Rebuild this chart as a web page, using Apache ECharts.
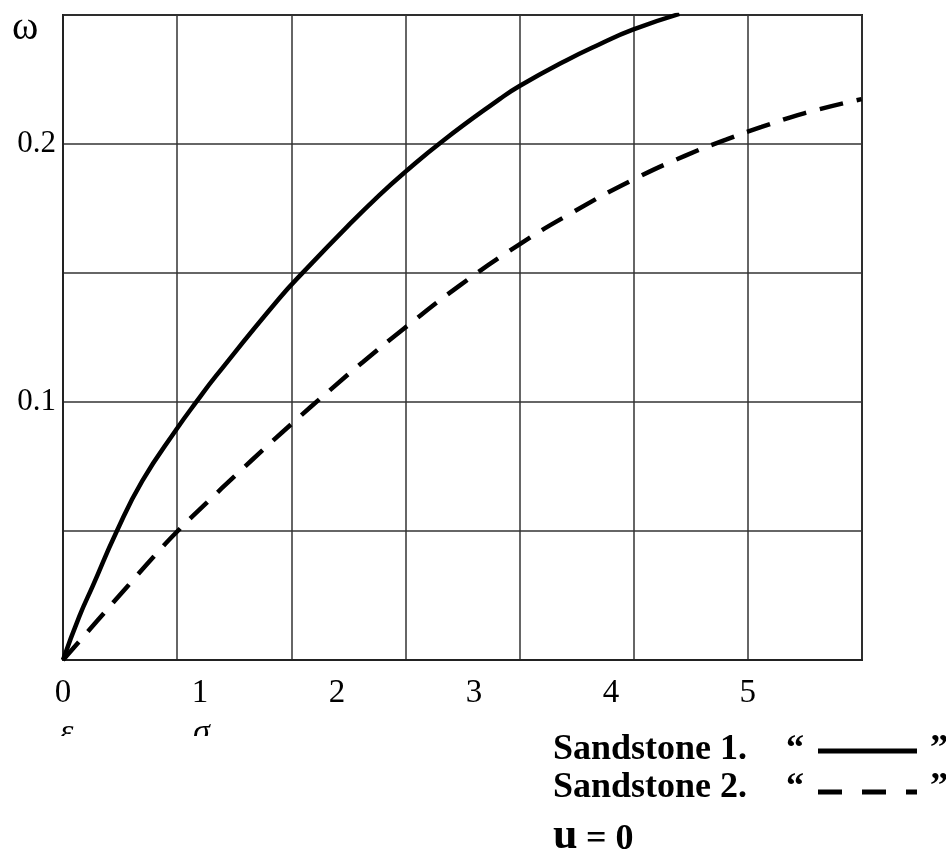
<!DOCTYPE html>
<html>
<head>
<meta charset="utf-8">
<script src="https://cdn.jsdelivr.net/npm/echarts@6/dist/echarts.min.js"></script>
<style>
  html, body { margin: 0; padding: 0; background: #fff; }
  #main { width: 946px; height: 853px; }
</style>
</head>
<body>
<div id="main"></div>
<script>
// strain (x) and omega (y)
var sand1X = [0, 0.12, 0.22, 0.39, 0.58, 0.83, 0.98, 1.12, 1.58, 1.77, 2.07, 2.31, 2.49, 2.77, 3.19, 3.33, 3.67, 3.91, 4.16, 4.50];
var sand1Y = [0, 0.017, 0.029, 0.0496, 0.0695, 0.0895, 0.1005, 0.1103, 0.1402, 0.1512, 0.1677, 0.1802, 0.1888, 0.2011, 0.2175, 0.2224, 0.2323, 0.2385, 0.2443, 0.2504];
var sand2X = [0, 0.25, 0.47, 0.66, 0.83, 1.05, 1.27, 1.49, 1.66, 1.96, 2.19, 2.49, 2.89, 3.33, 3.73, 4.16, 4.54, 4.84, 5.10, 5.41, 5.83];
var sand2Y = [0, 0.0152, 0.0285, 0.0399, 0.0496, 0.0610, 0.0721, 0.0829, 0.0911, 0.1051, 0.1155, 0.1285, 0.1449, 0.1610, 0.1738, 0.1861, 0.1954, 0.2017, 0.2066, 0.2119, 0.2174];
var xTickLabels = ['0', '1', '2', '3', '4', '5'];
var yTickLabels = ['0.1', '0.2'];

var font = 'Liberation Serif';

function pairs(xs, ys) {
  var out = [];
  for (var i = 0; i < xs.length; i++) out.push([xs[i], ys[i]]);
  return out;
}

var chart = echarts.init(document.getElementById('main'));

var option = {
  animation: false,
  backgroundColor: '#fff',
  grid: {
    left: 63, right: 84, top: 15, bottom: 193,
    show: true, borderColor: '#222', borderWidth: 2
  },
  xAxis: [
    {
      // grid columns
      type: 'value', position: 'bottom',
      min: 0, max: 35 / 6, interval: 5 / 6,
      axisLine: { show: true, lineStyle: { color: '#222', width: 2 } },
      axisTick: { show: false },
      axisLabel: { show: false },
      splitLine: { show: true, lineStyle: { color: '#333', width: 1.5 } }
    },
    {
      // unit labels
      type: 'value', position: 'bottom',
      min: 0, max: 35 / 6, interval: 1,
      axisLine: { show: false },
      axisTick: { show: false },
      splitLine: { show: false },
      axisLabel: {
        show: true, margin: 17, color: '#000',
        fontFamily: font, fontSize: 33,
        showMaxLabel: false,
        formatter: function (v) {
          var i = Math.round(v);
          if (Math.abs(v - i) > 1e-6) return '';
          return xTickLabels[i] || '';
        }
      }
    }
  ],
  yAxis: {
    type: 'value',
    min: 0, max: 0.25, interval: 0.05,
    axisLine: { show: true, lineStyle: { color: '#222', width: 2 } },
    axisTick: { show: false },
    splitLine: { show: true, lineStyle: { color: '#333', width: 1.5 } },
    axisLabel: {
      margin: 7, color: '#000',
      fontFamily: font, fontSize: 31,
      padding: [0, 0, 10, 0],
      formatter: function (v) {
        for (var i = 0; i < yTickLabels.length; i++) {
          if (Math.abs(v - parseFloat(yTickLabels[i])) < 1e-6) return yTickLabels[i];
        }
        return '';
      }
    }
  },
  series: [
    {
      name: 'Sandstone 1.',
      type: 'line', xAxisIndex: 0,
      data: pairs(sand1X, sand1Y),
      smooth: 0.5, showSymbol: false,
      lineStyle: { color: '#000', width: 4.5 }
    },
    {
      name: 'Sandstone 2.',
      type: 'line', xAxisIndex: 0,
      data: pairs(sand2X, sand2Y),
      smooth: 0.5, showSymbol: false,
      lineStyle: { color: '#000', width: 4.5, type: [24, 14], cap: 'butt' }
    }
  ],
  graphic: [
    // omega label at top of the y axis
    { type: 'text', left: 12, top: 8, style: { text: 'ω', font: '40px "Liberation Serif"', fill: '#000' } },
    // remnants of the cut-off line below the axis
    { type: 'text', x: 60, y: 733, style: { text: 'ε', font: 'italic 34px "Liberation Serif"', fill: '#000', verticalAlign: 'middle' } },
    { type: 'text', x: 193, y: 733, style: { text: 'σ', font: 'italic 34px "Liberation Serif"', fill: '#000', verticalAlign: 'middle' } },
    { type: 'rect', z: 100, shape: { x: 0, y: 736, width: 540, height: 120 }, style: { fill: '#fff' } },
    // legend
    { type: 'text', x: 553, y: 750, style: { text: 'Sandstone 1.', font: 'bold 36px "Liberation Serif"', fill: '#000', verticalAlign: 'middle' } },
    { type: 'text', x: 786, y: 750, style: { text: '\u201C', font: 'bold 36px "Liberation Serif"', fill: '#000', verticalAlign: 'middle' } },
    { type: 'line', shape: { x1: 818, y1: 751, x2: 917, y2: 751 }, style: { stroke: '#000', lineWidth: 5 } },
    { type: 'text', x: 930, y: 750, style: { text: '\u201D', font: 'bold 36px "Liberation Serif"', fill: '#000', verticalAlign: 'middle' } },
    { type: 'text', x: 553, y: 788, style: { text: 'Sandstone 2.', font: 'bold 36px "Liberation Serif"', fill: '#000', verticalAlign: 'middle' } },
    { type: 'text', x: 786, y: 788, style: { text: '\u201C', font: 'bold 36px "Liberation Serif"', fill: '#000', verticalAlign: 'middle' } },
    { type: 'line', shape: { x1: 818, y1: 792, x2: 917, y2: 792 }, style: { stroke: '#000', lineWidth: 5, lineDash: [24, 20] } },
    { type: 'text', x: 930, y: 788, style: { text: '\u201D', font: 'bold 36px "Liberation Serif"', fill: '#000', verticalAlign: 'middle' } },
    { type: 'text', x: 553, y: 837, style: { text: 'u', font: 'bold 44px "Liberation Serif"', fill: '#000', verticalAlign: 'middle' } },
    { type: 'text', x: 586, y: 840, style: { text: '= 0', font: 'bold 36px "Liberation Serif"', fill: '#000', verticalAlign: 'middle' } }
  ]
};

chart.setOption(option);
</script>
</body>
</html>
